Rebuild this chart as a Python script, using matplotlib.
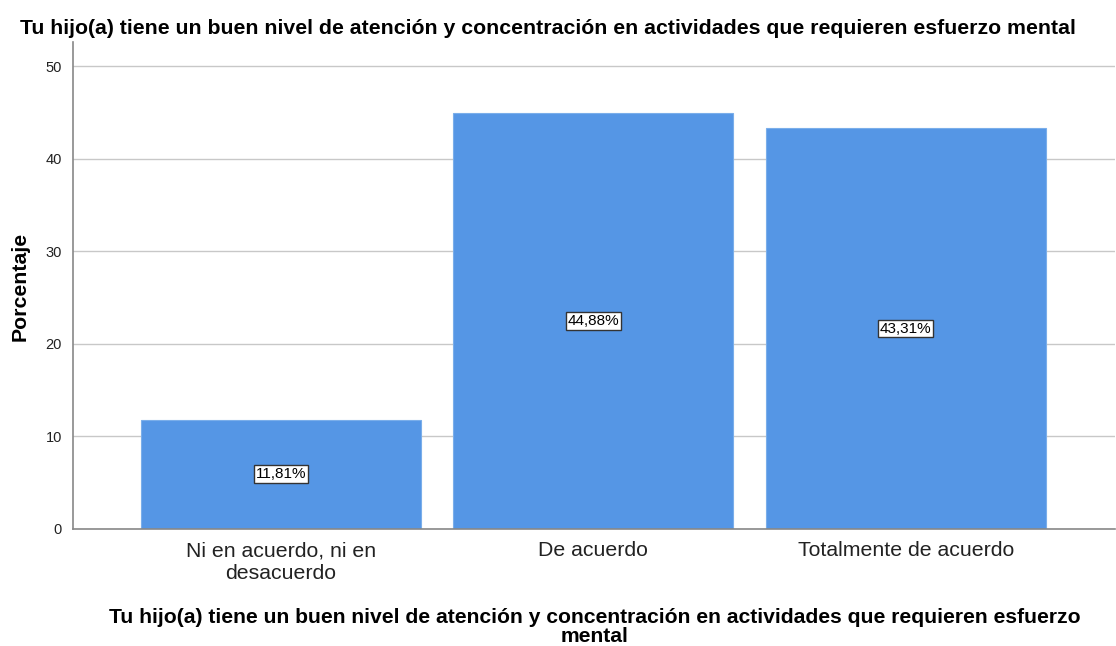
import matplotlib
matplotlib.use("Agg")
import matplotlib.pyplot as plt

plt.rcParams['font.family'] = ['Liberation Sans', 'DejaVu Sans']

categories = ["Ni en acuerdo, ni en\ndesacuerdo", "De acuerdo", "Totalmente de acuerdo"]
percentages = [11.81, 44.88, 43.31]
yticks = [0, 10, 20, 30, 40, 50]
title = "Tu hijo(a) tiene un buen nivel de atención y concentración en actividades que requieren esfuerzo mental"
xlabel = "Tu hijo(a) tiene un buen nivel de atención y concentración en actividades que requieren esfuerzo\nmental"
ylabel = "Porcentaje"

W, H = 1116, 646
fig = plt.figure(figsize=(W / 100, H / 100), dpi=100)
ax = fig.add_axes([73 / W, 1 - 529 / H, (1115 - 73) / W, (529 - 42) / H])

x = list(range(len(categories)))
ax.bar(x, percentages, width=0.896, color="#5596e5", edgecolor="#7aaeea", linewidth=0.8, zorder=2)

for xi, v in zip(x, percentages):
    ax.text(xi, v / 2, f"{v:.2f}%".replace(".", ","), ha="center", va="center",
            fontsize=11, color="black", zorder=3,
            bbox=dict(boxstyle="square,pad=0.12", facecolor="white", edgecolor="#333333", linewidth=1))

ax.set_xlim(-0.666, 2.67)
ax.set_ylim(0, 52.6)
ax.set_yticks(yticks)
ax.set_xticks(x)
ax.set_xticklabels(categories, fontsize=15.3, color="#222222", linespacing=1.25)
ax.tick_params(axis="y", length=0, labelsize=10.5, pad=8, colors="#222222")
ax.tick_params(axis="x", length=0, pad=9)
ax.grid(axis="y", color="#c8c8c8", linewidth=1, zorder=0)
ax.set_axisbelow(True)
for s in ["top", "right"]:
    ax.spines[s].set_visible(False)
for s in ["left", "bottom"]:
    ax.spines[s].set_color("#888888")
    ax.spines[s].set_linewidth(1.2)

fig.text(548 / W, 1 - 28 / H, title, ha="center", va="center", fontsize=15.3, fontweight="bold")
fig.text(595 / W, 1 - 627 / H, xlabel, ha="center", va="center", fontsize=15.2, fontweight="bold", linespacing=1.0)
fig.text(20 / W, 1 - 286 / H, ylabel, ha="center", va="center", fontsize=15.3, fontweight="bold", rotation=90)

fig.savefig("out.png", dpi=100)
